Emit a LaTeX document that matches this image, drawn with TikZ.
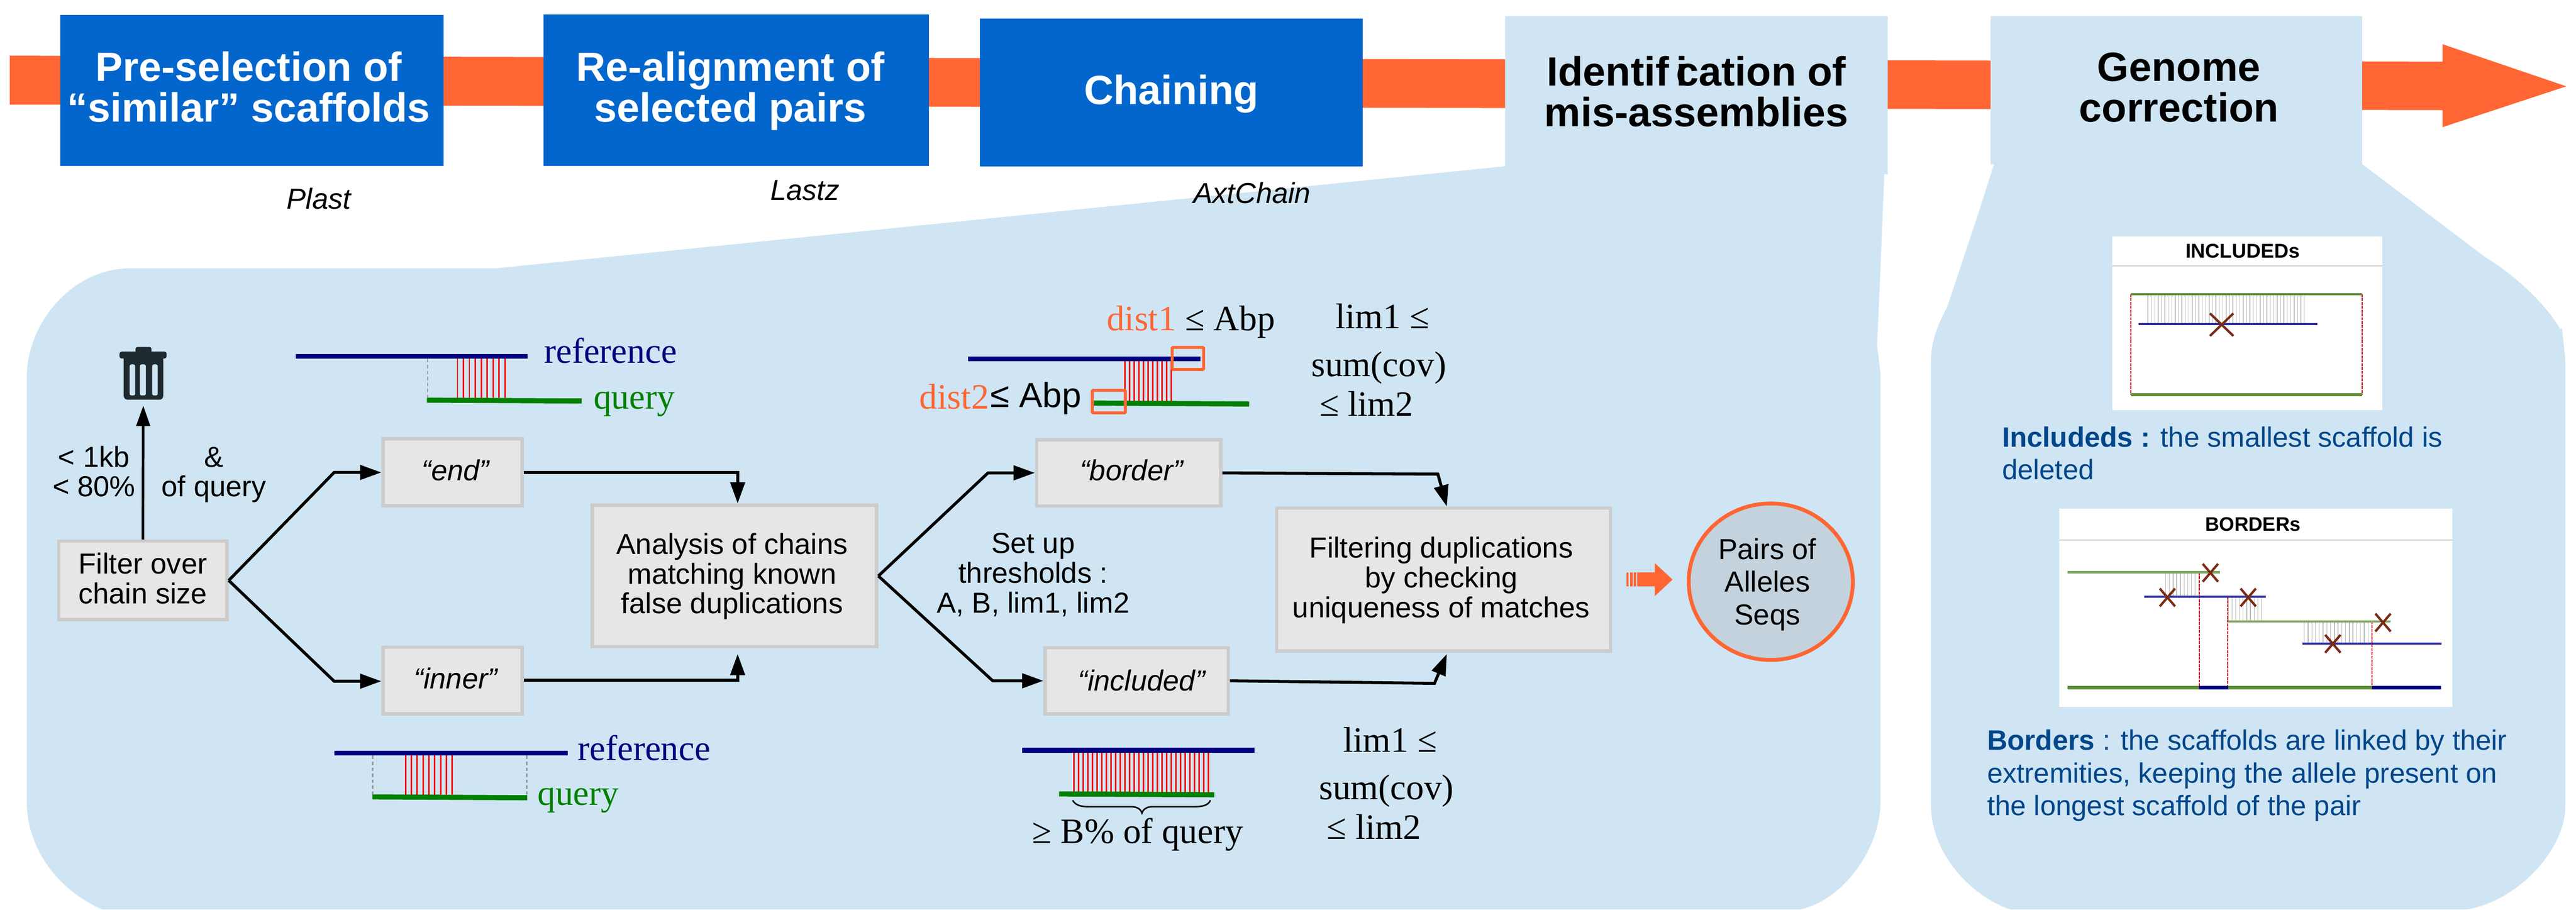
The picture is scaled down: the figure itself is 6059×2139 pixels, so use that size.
\documentclass[tikz,border=0pt]{standalone}
\usepackage{fontspec}
\setmainfont{Liberation Sans}
\newfontfamily\tnr{Liberation Serif}
\usetikzlibrary{arrows.meta,shapes.geometric}
\definecolor{cpanel}{HTML}{CFE5F3}
\definecolor{cblue}{HTML}{0366CC}
\definecolor{corange}{HTML}{FF6633}
\definecolor{cboxf}{HTML}{E6E6E6}
\definecolor{cboxd}{HTML}{CCCCCC}
\definecolor{cnavy}{HTML}{000080}
\definecolor{cgreen}{HTML}{008000}
\definecolor{ctext}{HTML}{00468A}
\definecolor{ccirc}{HTML}{C3D2DC}
\definecolor{ccross}{HTML}{7B2A14}
\definecolor{cdark}{HTML}{1F2A30}
\definecolor{cimgg}{HTML}{5F8F3A}
\definecolor{cimgb}{HTML}{2A2AA0}
\tikzset{
  txt/.style={inner sep=0pt,outer sep=0pt,align=center,anchor=base},
  txtl/.style={inner sep=0pt,outer sep=0pt,align=left,anchor=base west},
  headtxt/.style={txt,font=\bfseries\fontsize{96}{96}\selectfont},
  sans/.style={txt,font=\fontsize{68}{70}\selectfont},
  sansi/.style={txt,font=\itshape\fontsize{68}{70}\selectfont},
  rom/.style={txt,font=\tnr\fontsize{84}{84}\selectfont},
  captxt/.style={txtl,text=ctext,font=\fontsize{66}{77}\selectfont},
  imgtitle/.style={txt,font=\bfseries\fontsize{47}{47}\selectfont},
  bluebox/.style={fill=cblue},
  greybox/.style={rectangle,fill=cboxf,draw=cboxd,line width=8pt,inner sep=0pt,outer sep=4pt},
  conn/.style={draw=black,line width=7pt,line join=miter,-{Triangle[length=50pt,width=34pt]}},
  navyline/.style={draw=cnavy,line width=12pt},
  greenline/.style={draw=cgreen,line width=12pt},
  hitline/.style={draw=red,line width=3.5pt},
  guide/.style={draw=gray!80,line width=3pt,dash pattern=on 8pt off 6pt},
  orbox/.style={draw=corange,line width=7pt,rounded corners=2pt},
  xmark/.style={draw=ccross,line width=5.5pt},
  hatchline/.style={draw=gray!55,line width=1.6pt},
  imgred/.style={draw=red!80!black,line width=2.5pt,dash pattern=on 7pt off 2pt},
}
\newcommand{\crossat}[2]{\draw[xmark] (#1-18,#2-21) -- (#1+18,#2+21) (#1+18,#2-21) -- (#1-18,#2+21);}
\begin{document}
\begin{tikzpicture}[x=1pt,y=-1pt]
\path[use as bounding box,fill=white] (0,0) rectangle (6059,2139);
% main arrow
\fill[corange] (23,131) -- (5745,145) -- (5745,104) -- (6036,203) -- (5745,299) -- (5745,259) -- (23,246) -- cycle;
% blue boxes
\fill[bluebox] (142,35) rectangle (1043,390);
\fill[bluebox] (1278,34) rectangle (2185,390);
\fill[bluebox] (2305,44) rectangle (3205,391);
% panels
\fill[cpanel] (3540,38) -- (4440,38) -- (4440,410) -- (4432,410) -- (4420,700) -- (4415,811) -- (4423,878) -- (4423,1885)
  .. controls (4423,2000) and (4330,2120) .. (4232,2139) -- (241,2139)
  .. controls (130,2090) and (63,1990) .. (63,1885) -- (63,887)
  .. controls (63,760) and (170,631) .. (306,631) -- (1167,631) -- (3540,391) -- cycle;
\fill[cpanel] (4682,38) -- (5556,38) -- (5556,386) -- (5847,606)
  .. controls (5905,640) and (5985,710) .. (6021,773) -- (6026,773) -- (6034,847) -- (6034,1894)
  .. controls (6034,2000) and (5920,2120) .. (5800,2139) -- (4730,2139)
  .. controls (4640,2110) and (4542,2010) .. (4542,1894) -- (4542,847)
  .. controls (4542,800) and (4560,760) .. (4580,722) -- (4654,500) -- (4690,386) -- (4682,386) -- cycle;
% header texts
\node[headtxt,text=white] (h1) at (585,287) {Pre-selection of\\“similar” scaffolds};
\node[headtxt,text=white] (h2) at (1718,287) {Re-alignment of\\selected pairs};
\node[headtxt,text=white] (h3) at (2755,245) {Chaining};
\node[headtxt] (h4) at (3990,298) {Identif\,\rlap{i}cation of\\mis-assemblies};
\node[headtxt] (h5) at (5125,287) {Genome\\correction};
\node[sansi] (c1) at (750,491) {Plast};
\node[sansi] (c2) at (1893,471) {Lastz};
\node[sansi] (c3) at (2945,478) {AxtChain};
% grey boxes
\node[greybox,minimum width=396pt,minimum height=185pt] (filter) at (336,1365) {};
\node[sans] (filtert) at (336,1419) {Filter over\\chain size};
\node[greybox,minimum width=327pt,minimum height=157pt] (endb) at (1064.5,1110.5) {};
\node[sansi] (endt) at (1071,1130) {“end”};
\node[greybox,minimum width=327pt,minimum height=157pt] (innerb) at (1064.5,1600.5) {};
\node[sansi] (innert) at (1072,1619) {“inner”};
\node[greybox,minimum width=669pt,minimum height=333pt] (analysis) at (1727.5,1354.5) {};
\node[sans] (analysist) at (1722,1443) {Analysis of chains\\matching known\\false duplications};
\node[greybox,minimum width=433pt,minimum height=156pt] (border) at (2654.5,1112) {};
\node[sansi] (bordert) at (2661,1130) {“border”};
\node[greybox,minimum width=431pt,minimum height=156pt] (included) at (2673.5,1601) {};
\node[sansi] (includedt) at (2685,1625) {“included”};
\node[greybox,minimum width=785pt,minimum height=336pt] (filtering) at (3395.5,1363) {};
\node[sans] (filteringt) at (3390,1452) {Filtering duplications\\by checking\\uniqueness of matches};
\node[ellipse,fill=ccirc,draw=corange,line width=9pt,inner sep=0pt,minimum width=386pt,minimum height=368pt] (pairs) at (4165,1368) {};
\node[sans,font=\fontsize{68}{77}\selectfont] (pairst) at (4157,1469) {Pairs of\\Alleles\\Seqs};
% labels
\node[sans] (l1) at (221,1168) {< 1kb\\< 80\%};
\node[sans] (l2) at (503,1168) {\&\\of query};
\node[sans] (l3) at (2430,1441) {Set up\\thresholds :\\A, B, lim1, lim2};
% trash icon
\coordinate (trashb) at (337,954);
\fill[cdark,rounded corners=4pt] (319,816) rectangle (356,832);
\fill[cdark,rounded corners=5pt] (281,843) -- (281,827) -- (392,827) -- (392,843) -- cycle;
\fill[cdark,rounded corners=9pt] (291,846) rectangle (384,940);
\fill[cdark] (291,840) rectangle (384,860);
\foreach \a/\b in {305/318,329/343,358/371} \fill[cpanel,rounded corners=4pt] (\a,857) rectangle (\b,930);
% connectors
\draw[conn,line width=6pt,-{Triangle[length=48pt,width=32pt]}] (filter.north) -- (trashb);
\coordinate (f1) at (786,1111); \coordinate (f2) at (786,1602);
\draw[conn] (filter.east) -- (f1) -- (f1 -| endb.west);
\draw[conn] (filter.east) -- (f2) -- (f2 -| innerb.west);
\coordinate (a1) at (1735,1111); \coordinate (a2) at (1735,1600); \coordinate (a3) at (1735,1538);
\draw[conn] (a1 -| endb.east) -- (a1) -- (a1 |- analysis.north);
\draw[conn] (a2 -| innerb.east) -- (a2) -- (a3);
\coordinate (b1) at (2324,1112); \coordinate (b2) at (2335,1601);
\draw[conn] (analysis.east) -- (b1) -- (b1 -| border.west);
\draw[conn] (analysis.east) -- (b2) -- (b2 -| included.west);
\coordinate (g1) at (3382,1115); \coordinate (g2) at (3374,1607);
\coordinate (g3) at (3403,1538);
\draw[conn] (border.east) -- (g1) -- (filtering.north -| g3);
\draw[conn] (included.east) -- (g2) -- (g3);
% block arrow to circle
\fill[corange] (3851,1346) -- (3892,1346) -- (3892,1324) -- (3934,1363) -- (3892,1402) -- (3892,1379) -- (3851,1379) -- cycle;
\foreach \a in {3825,3834,3843} \fill[corange] (\a,1346) rectangle (\a+6,1379);
% alignment sketch end
\draw[navyline] (696,838) -- (1241,838);
\draw[greenline] (1004,941) -- (1368,943);
\draw[guide] (1006,844) -- (1006,935);
\foreach \i in {0,...,8} \draw[hitline] (1076+\i*14,844) -- (1076+\i*14,936);
\node[rom,text=cnavy] (r1) at (1436,854) {reference};
\node[rom,text=cgreen] (q1) at (1492,961) {query};
% alignment sketch inner
\draw[navyline] (787,1771) -- (1335,1771);
\draw[greenline] (876,1874) -- (1240,1876);
\draw[guide] (877,1777) -- (877,1868);
\draw[guide] (1239,1777) -- (1239,1868);
\foreach \i in {0,...,8} \draw[hitline] (954+\i*13.7,1777) -- (954+\i*13.7,1869);
\node[rom,text=cnavy] (r2) at (1515,1788) {reference};
\node[rom,text=cgreen] (q2) at (1360,1894) {query};
% alignment sketch border
\foreach \i in {0,...,10} \draw[hitline] (2646+\i*10.9,850) -- (2646+\i*10.9,944);
\draw[navyline] (2277,844) -- (2824,844);
\draw[greenline] (2572,948) -- (2938,950);
\draw[orbox] (2757,817) rectangle (2831,869);
\draw[orbox] (2569,918) rectangle (2647,971);
\node[rom,anchor=base west] (d1) at (2603,777) {\textcolor{corange}{dist1} ≤ Abp};
\node[rom,anchor=base west] (d2t) at (2163,961) {\textcolor{corange}{dist2}};
\node[sans,font=\fontsize{82}{82}\selectfont,anchor=base west] (d2) at (2330,958) {≤ Abp};
\node[rom] (s1a) at (3252,773) {lim1 ≤};
\node[rom] (s1b) at (3243,885) {sum(cov)};
\node[rom] (s1c) at (3214,978) {≤ lim2};
% alignment sketch included
\foreach \i in {0,...,29} \draw[hitline] (2526+\i*10.9,1770) -- (2526+\i*10.9,1864);
\draw[navyline] (2404,1764) -- (2951,1764);
\draw[greenline] (2491,1867) -- (2856,1869);
\draw[line width=3.5pt] (2523,1882) .. controls (2530,1895) and (2545,1897) .. (2560,1897) -- (2660,1897) .. controls (2675,1897) and (2683,1903) .. (2686,1912) .. controls (2689,1903) and (2697,1897) .. (2712,1897) -- (2810,1897) .. controls (2825,1897) and (2842,1895) .. (2847,1882);
\node[rom] (bq) at (2676,1983) {≥ B\% of query};
\node[rom] (s2a) at (3270,1768) {lim1 ≤};
\node[rom] (s2b) at (3261,1880) {sum(cov)};
\node[rom] (s2c) at (3232,1973) {≤ lim2};
% INCLUDEDs picture
\fill[white] (4968,556) rectangle (5603,964);
\draw[cboxd,line width=3pt] (4968,625) -- (5603,625);
\node[imgtitle] (it) at (5275,607) {INCLUDEDs};
\foreach \i in {0,...,46} \draw[hatchline] (5052+\i*8,692) -- (5052+\i*8,762);
\draw[imgred] (5012,692) -- (5012,928);
\draw[imgred] (5556,692) -- (5556,928);
\draw[cimgg,line width=5pt] (5012,692) -- (5556,692);
\draw[cimgg,line width=8pt] (5012,928) -- (5556,928);
\draw[cimgb,line width=5pt] (5030,762) -- (5451,762);
\draw[xmark] (5198,737) -- (5253,790) (5253,737) -- (5198,790);
\node[captxt] (ic) at (4709,1128) {\textbf{Includeds :} the smallest scaffold is\\deleted};
% BORDERs picture
\fill[white] (4844,1196) rectangle (5768,1663);
\draw[cboxd,line width=3pt] (4844,1270) -- (5768,1270);
\node[imgtitle,font=\bfseries\fontsize{46}{46}\selectfont] (bt) at (5299,1249) {BORDERs};
\foreach \i in {0,...,9} \draw[hatchline] (5094+\i*8.6,1346) -- (5094+\i*8.6,1403);
\foreach \i in {0,...,9} \draw[hatchline] (5241+\i*8.7,1403) -- (5241+\i*8.7,1461);
\foreach \i in {0,...,18} \draw[hatchline] (5420+\i*8.8,1461) -- (5420+\i*8.8,1514);
\draw[imgred] (5173,1346) -- (5173,1617);
\draw[imgred] (5240,1403) -- (5240,1617);
\draw[imgred] (5579,1461) -- (5579,1617);
\draw[cimgg!80,line width=6pt] (4863,1346) -- (5221,1346);
\draw[cimgb,line width=5pt] (5043,1403) -- (5330,1403);
\draw[cimgg!80,line width=5pt] (5241,1461) -- (5623,1461);
\draw[cimgb,line width=5pt] (5416,1514) -- (5743,1514);
\draw[cimgg,line width=9pt] (4863,1617) -- (5172,1617);
\draw[cnavy,line width=9pt] (5172,1617) -- (5241,1617);
\draw[cimgg,line width=9pt] (5241,1617) -- (5579,1617);
\draw[cnavy,line width=9pt] (5579,1617) -- (5741,1617);
\crossat{5199}{1347}
\crossat{5098}{1405}
\crossat{5288}{1405}
\crossat{5605}{1464}
\crossat{5487}{1514}
\node[captxt] (bc) at (4674,1918) {\textbf{Borders} : the scaffolds are linked by their\\extremities, keeping the allele present on\\the longest scaffold of the pair};
\end{tikzpicture}
\end{document}
